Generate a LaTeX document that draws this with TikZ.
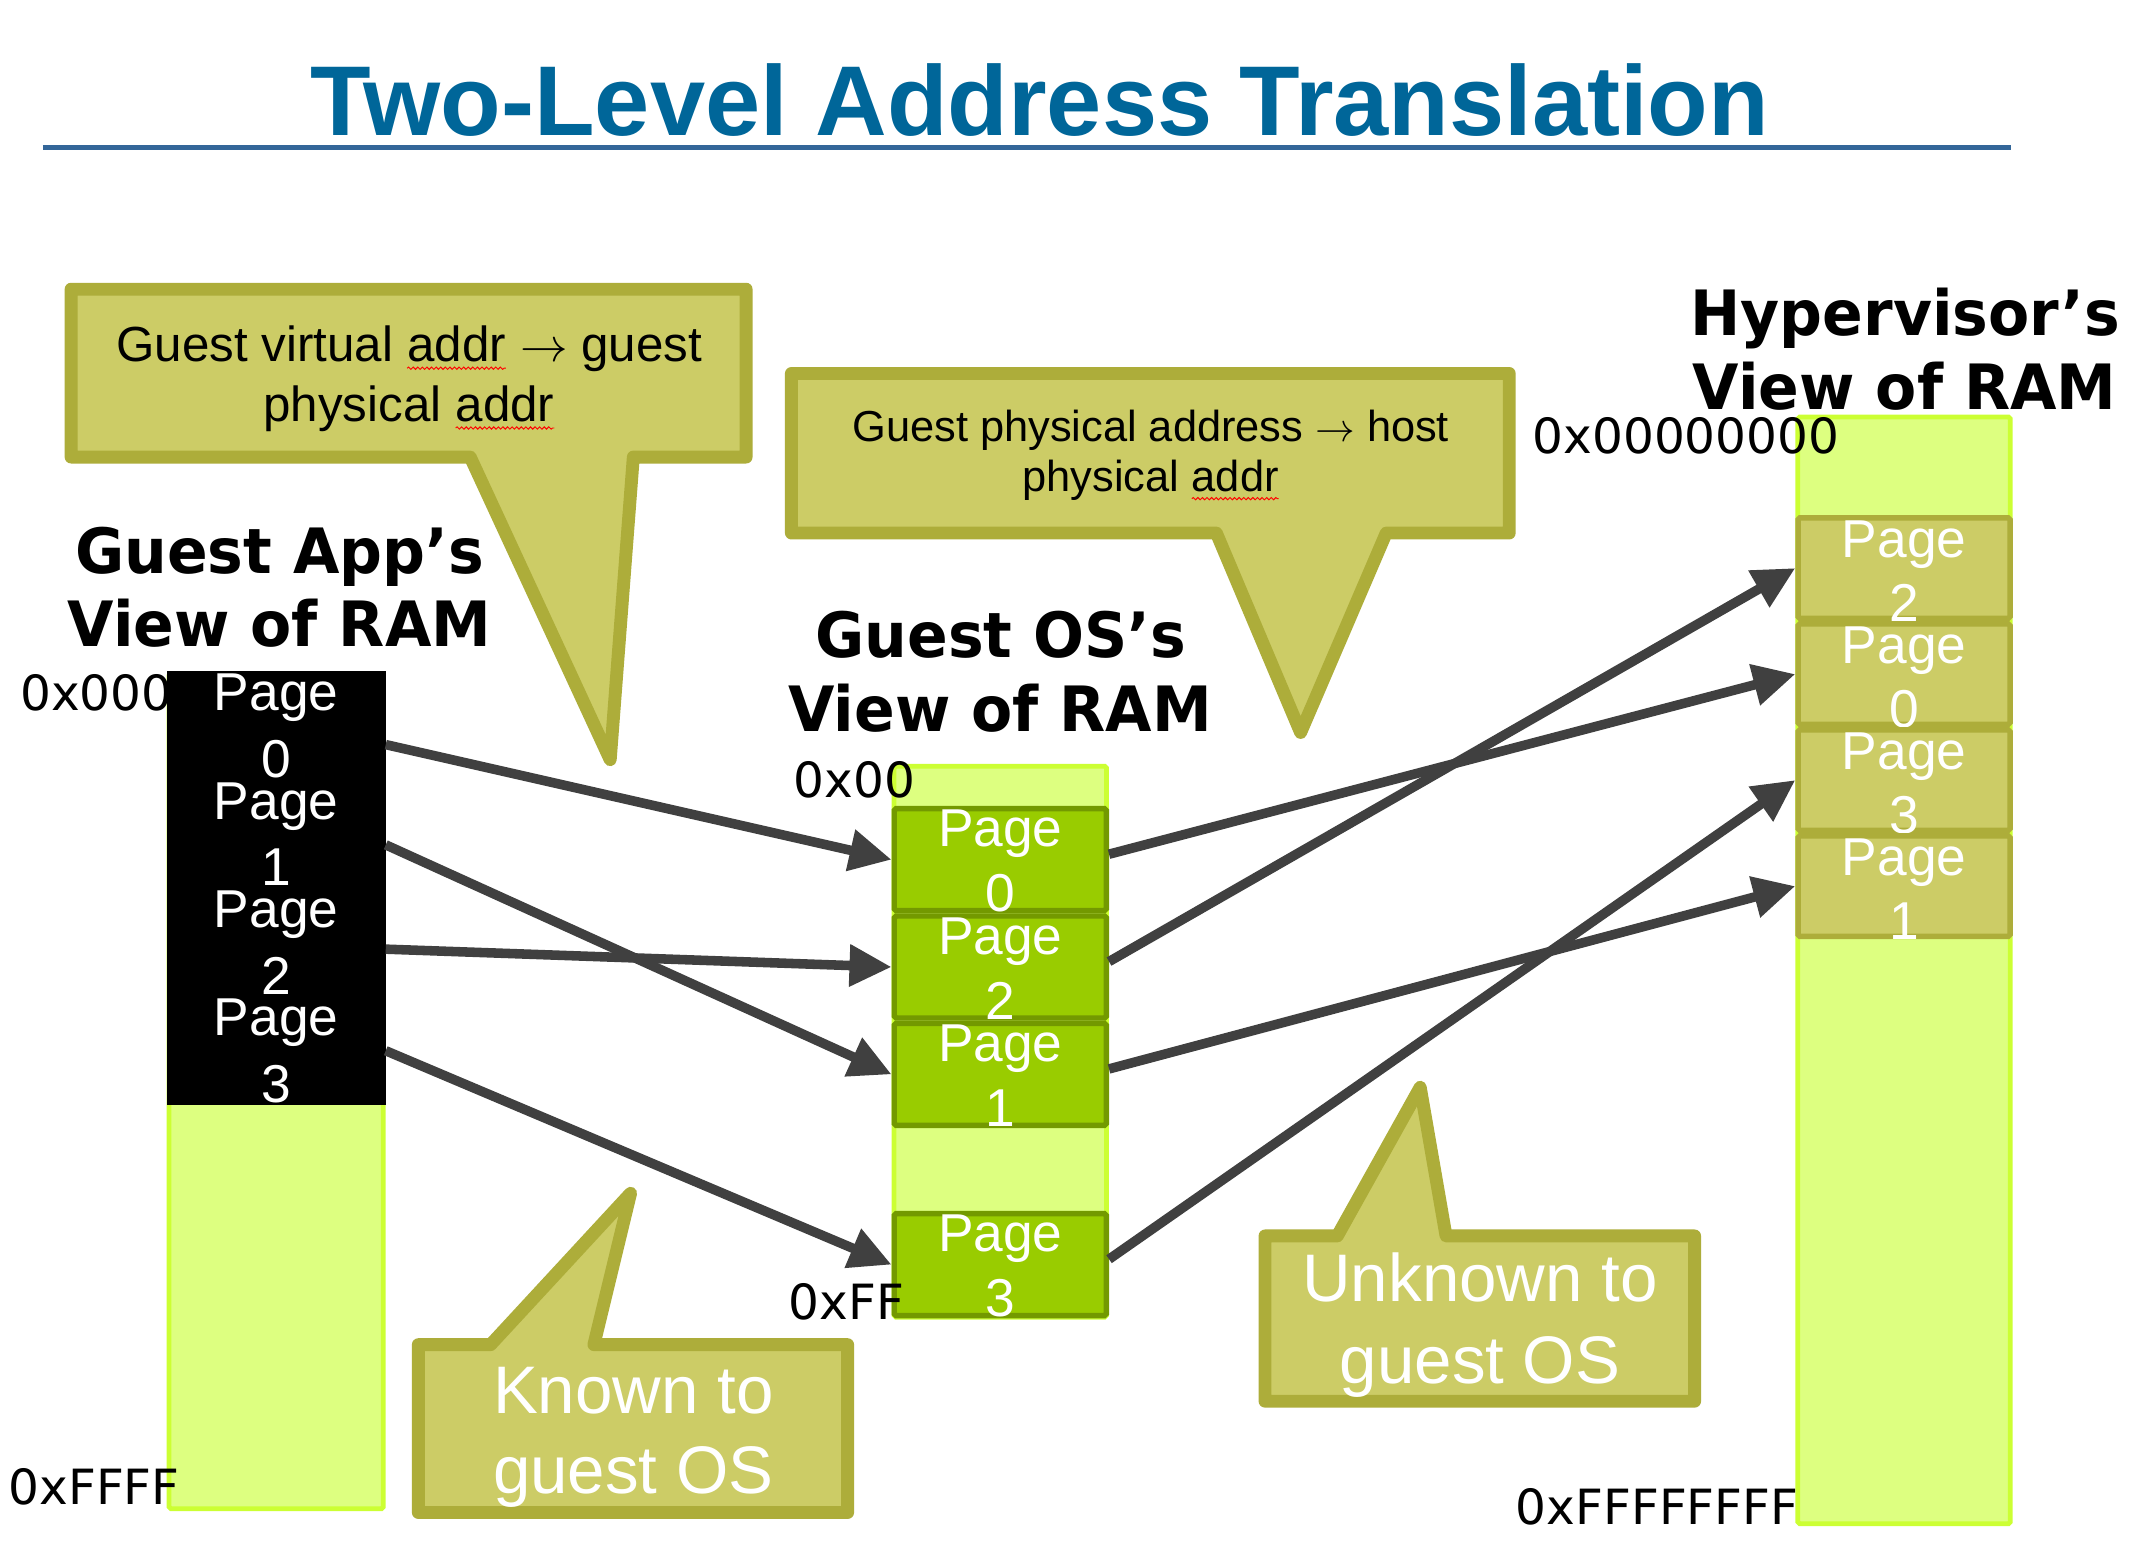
\documentclass[tikz,border=0pt]{standalone}
\usepackage{fontspec}
\setmainfont{Liberation Sans}
\newfontfamily\headfont{DejaVu Sans}[FakeStretch=0.96]
\newfontfamily\addrfont{DejaVu Sans}
\usetikzlibrary{arrows.meta,calc,decorations.pathmorphing}

% red spelling squiggle under a word
\newcommand\spellmark[1]{\tikz[baseline=(w.base)]{%
  \node[inner sep=0pt, outer sep=0pt, anchor=base] (w) {#1};
  \draw[red, line width=0.5pt, decorate,
        decoration={snake, amplitude=0.6pt, segment length=2.4pt}]
    ($(w.base west)+(0pt,-3.5pt)$) -- ($(w.base east)+(0pt,-3.5pt)$);}}
\newcommand\maps{$\rightarrow$}

\definecolor{titleblue}{RGB}{0,102,153}
\definecolor{ruleblue}{RGB}{51,102,153}
\definecolor{ramfill}{RGB}{221,255,128}
\definecolor{ramedge}{RGB}{204,255,51}
\definecolor{ospfill}{RGB}{153,204,0}
\definecolor{ospedge}{RGB}{115,153,0}
\definecolor{olivefill}{RGB}{204,204,102}
\definecolor{oliveedge}{RGB}{173,173,58}
\definecolor{arrowgray}{RGB}{64,64,64}

\tikzset{
  ramcol/.style={draw=ramedge, fill=ramfill, line width=2.5pt, rounded corners=1pt},
  apppage/.style={fill=black, minimum width=4.03cm, minimum height=1.99375cm,
    inner sep=0pt, outer sep=0pt, anchor=north west},
  ospage/.style={draw=ospedge, fill=ospfill, line width=2.85pt, rounded corners=1pt,
    minimum width=3.9cm, minimum height=1.875cm, inner sep=0pt, anchor=north west},
  hvpage/.style={draw=oliveedge, fill=olivefill, line width=2.85pt, rounded corners=1pt,
    minimum width=3.9cm, minimum height=1.85cm, inner sep=0pt, anchor=north west},
  pgtext/.style={text=white, font=\fontsize{27.9pt}{30pt}\selectfont, anchor=base, inner sep=0pt},
  addr/.style={font=\addrfont\fontsize{25.4pt}{28pt}\selectfont, anchor=base west, inner sep=0pt},
  head/.style={font=\headfont\bfseries\fontsize{32.7pt}{36pt}\selectfont, anchor=base, inner sep=0pt},
  callout/.style={draw=oliveedge, fill=olivefill, line width=6.75pt, line join=round},
  notea/.style={font=\fontsize{25.8pt}{28pt}\selectfont, anchor=base, inner sep=0pt},
  noteb/.style={font=\fontsize{22.7pt}{25pt}\selectfont, anchor=base, inner sep=0pt},
  bignote/.style={text=white, font=\fontsize{35.2pt}{40pt}\selectfont, anchor=base, inner sep=0pt},
  conn/.style={draw=arrowgray, line width=5pt, -{Triangle[length=22pt,width=21pt]}}
}

\begin{document}
\begin{tikzpicture}[x=0.025cm, y=-0.025cm]
\useasboundingbox (0,0) rectangle (1568,1139);
\fill[white] (0,0) rectangle (1568,1139);

% memory columns
\draw[ramcol] (124.4,495.8) rectangle (282,1110.2);
\draw[ramcol] (657.8,563.8) rectangle (814.2,969.2);
\draw[ramcol] (1322.8,306.8) rectangle (1479.2,1121.2);

\node[addr] (lA0) at (14.7,522.5) {0x000};

% guest application pages
\node[apppage] (a0) at (122.6,494) {};
\node[pgtext] (a0p) at ($(a0.north)+(0,29)$) {Page};
\node[pgtext] (a0n) at ($(a0.north)+(0,78)$) {0};
\node[apppage] (a1) at (122.6,573.75) {};
\node[pgtext] (a1p) at ($(a1.north)+(0,29)$) {Page};
\node[pgtext] (a1n) at ($(a1.north)+(0,78)$) {1};
\node[apppage] (a2) at (122.6,653.5) {};
\node[pgtext] (a2p) at ($(a2.north)+(0,29)$) {Page};
\node[pgtext] (a2n) at ($(a2.north)+(0,78)$) {2};
\node[apppage] (a3) at (122.6,733.25) {};
\node[pgtext] (a3p) at ($(a3.north)+(0,29)$) {Page};
\node[pgtext] (a3n) at ($(a3.north)+(0,78)$) {3};

% guest OS pages
\node[ospage] (o0) at (656,593) {};
\node[pgtext] (o0p) at ($(o0.north)+(0,30)$) {Page};
\node[pgtext] (o0n) at ($(o0.north)+(0,78)$) {0};
\node[ospage] (o2) at (656,672) {};
\node[pgtext] (o2p) at ($(o2.north)+(0,30)$) {Page};
\node[pgtext] (o2n) at ($(o2.north)+(0,78)$) {2};
\node[ospage] (o1) at (656,751) {};
\node[pgtext] (o1p) at ($(o1.north)+(0,30)$) {Page};
\node[pgtext] (o1n) at ($(o1.north)+(0,78)$) {1};
\node[ospage] (o3) at (656,891) {};
\node[pgtext] (o3p) at ($(o3.north)+(0,30)$) {Page};
\node[pgtext] (o3n) at ($(o3.north)+(0,78)$) {3};

% hypervisor pages
\node[hvpage] (h2) at (1321,379) {};
\node[pgtext] (h2p) at ($(h2.north)+(0,31)$) {Page};
\node[pgtext] (h2n) at ($(h2.north)+(0,78)$) {2};
\node[hvpage] (h0) at (1321,457) {};
\node[pgtext] (h0p) at ($(h0.north)+(0,31)$) {Page};
\node[pgtext] (h0n) at ($(h0.north)+(0,78)$) {0};
\node[hvpage] (h3) at (1321,535) {};
\node[pgtext] (h3p) at ($(h3.north)+(0,31)$) {Page};
\node[pgtext] (h3n) at ($(h3.north)+(0,78)$) {3};
\node[hvpage] (h1) at (1321,613) {};
\node[pgtext] (h1p) at ($(h1.north)+(0,31)$) {Page};
\node[pgtext] (h1n) at ($(h1.north)+(0,78)$) {1};

% address bounds
\node[addr] (lAF) at (6,1107) {0xFFFF};
\node[addr] (lO0) at (583.6,587) {0x00};
\node[addr] (lOF) at (580,971) {0xFF};
\node[addr] (lH0) at (1127.5,334) {0x00000000};
\node[addr] (lHF) at (1115,1122) {0xFFFFFFFF};

% column headings
\node[head] (hA1) at (205.7,422) {Guest App’s};
\node[head] (hA2) at (205.7,476) {View of RAM};
\node[head] (hO1) at (736.5,484) {Guest OS’s};
\node[head] (hO2) at (736,538.6) {View of RAM};
\node[head] (hH1) at (1402,247) {Hypervisor’s};
\node[head] (hH2) at (1401.5,301) {View of RAM};

% title
\node[font=\bfseries\fontsize{51.9pt}{56pt}\selectfont, text=titleblue, anchor=base, inner sep=0pt]
  (title) at (765,100) {Two-Level Address Translation};
\draw[ruleblue, line width=2.6pt] (31.6,108.5) -- (1480,108.5);

% callouts
\draw[callout] (52.3,212.8) -- (549,212.8) -- (549,336.3) -- (466,336.3)
  -- (449,559) -- (346,336.3) -- (52.3,336.3) -- cycle;
\node[notea] (c1a) at (301,266) {Guest virtual \spellmark{addr} \maps{} guest};
\node[notea] (c1b) at (301,310) {physical \spellmark{addr}};

\draw[callout] (582.3,274.8) -- (1110.5,274.8) -- (1110.5,392.2) -- (1020,392.2)
  -- (957,539) -- (895,392.2) -- (582.3,392.2) -- cycle;
\node[noteb] (c2a) at (846.7,325) {Guest physical address \maps{} host};
\node[noteb] (c2b) at (846.8,362) {physical \spellmark{addr}};

\draw[callout] (307.8,989.4) -- (361,989.4) -- (464,878) -- (437,989.4)
  -- (623.7,989.4) -- (623.7,1112.9) -- (307.8,1112.9) -- cycle;
\node[bignote] (k1) at (466,1040) {Known to};
\node[bignote] (k2) at (466,1099) {guest OS};

\draw[callout] (930.8,909.4) -- (984,909.4) -- (1045,800) -- (1064,909.4)
  -- (1246.9,909.4) -- (1246.9,1031) -- (930.8,1031) -- cycle;
\node[bignote] (u1) at (1089,958) {Unknown to};
\node[bignote] (u2) at (1089,1018) {guest OS};

% first level: guest virtual -> guest physical
\draw[conn] ($(a0.east)+(0,14)$) -- (o0.west);
\draw[conn] ($(a1.east)+(0,8)$) -- (o1.west);
\draw[conn] ($(a2.east)+(0,5)$) -- (o2.west);
\draw[conn] (a3.east) -- (o3.west);
% second level: guest physical -> host physical
\draw[conn] ($(o0.east)+(0,-4)$) -- (h0.west);
\draw[conn] ($(o2.east)+(0,-4)$) -- (h2.west);
\draw[conn] ($(o1.east)+(0,-4)$) -- (h1.west);
\draw[conn] ($(o3.east)+(0,-4)$) -- (h3.west);
\end{tikzpicture}
\end{document}
